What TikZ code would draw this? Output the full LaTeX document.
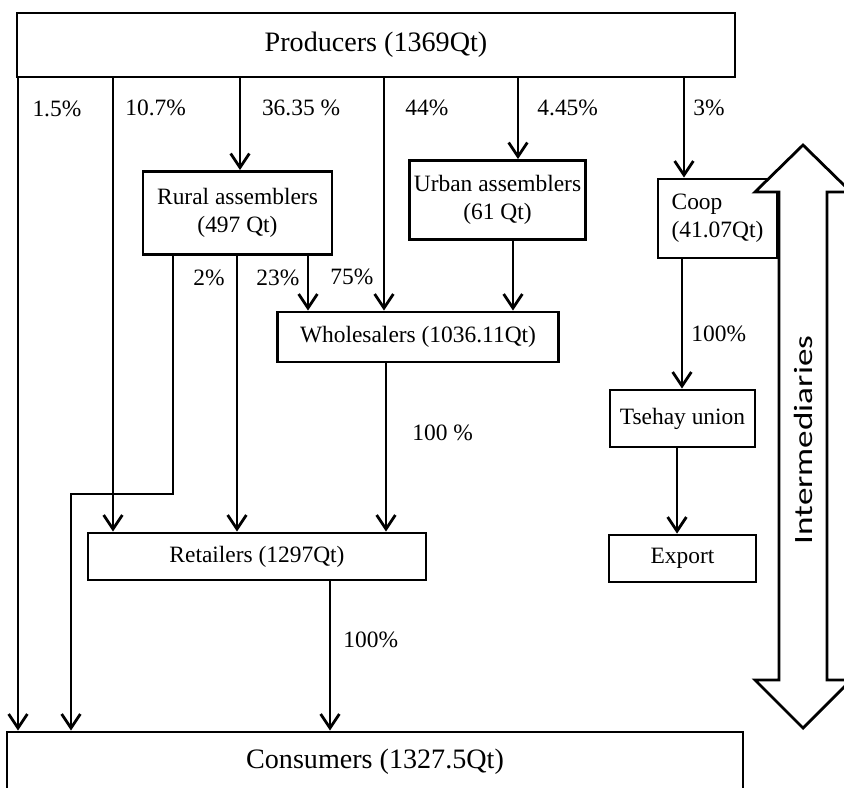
\documentclass[tikz,border=0pt]{standalone}
\usepackage{fontspec}
\setmainfont{Liberation Serif}
\newfontfamily\labelsans{Carlito}
\usetikzlibrary{arrows.meta}
\newcommand{\pxl}{0.015cm}

\begin{document}
\begin{tikzpicture}[x=0.015cm,y=-0.015cm,line width=1.2pt,
    >={Straight Barb[length=6pt,width=8pt]},
    stage/.style={draw,rectangle,align=center,inner sep=2pt},
    share/.style={inner sep=0pt,font=\normalsize}]
  \clip (0,0) rectangle (844,787);

  % actors
  \node[stage,minimum width=718*\pxl,minimum height=64*\pxl,font=\large] (prod) at (376,45) {Producers (1369Qt)};
  \node[stage,minimum width=189*\pxl,minimum height=83*\pxl] (rural) at (237.5,213) {Rural assemblers\\(497 Qt)};
  \node[stage,minimum width=165*\pxl,minimum height=79*\pxl] (urban) at (497.5,200) {Urban assemblers\\(61 Qt)};
  \node[stage,align=left,minimum width=119*\pxl,minimum height=79*\pxl] (coop) at (717.5,218.5) {Coop\\(41.07Qt)};
  \node[stage,minimum width=281*\pxl,minimum height=50*\pxl] (whole) at (418,337) {Wholesalers (1036.11Qt)};
  \node[stage,minimum width=145*\pxl,minimum height=57*\pxl] (tsehay) at (682.5,418.5) {Tsehay union};
  \node[stage,minimum width=147*\pxl,minimum height=47*\pxl] (export) at (682.5,558.5) {Export};
  \node[stage,minimum width=338*\pxl,minimum height=47*\pxl] (ret) at (257,556.5) {Retailers (1297Qt)};
  \node[stage,minimum width=736*\pxl,minimum height=60*\pxl,font=\large] (cons) at (375,762) {Consumers (1327.5Qt)};

  % flows
  \path[->]
    (18,0 |- prod.south) edge node[share,right=5.6pt,pos=.046] {1.5\%} (18,0 |- cons.north)
    (113,0 |- prod.south) edge node[share,right=4.7pt,pos=.066] {10.7\%} (113,0 |- ret.north)
    (240,0 |- prod.south) edge node[share,right=8.8pt,pos=.32] {36.35 \%} (240,0 |- rural.north)
    (384,0 |- prod.south) edge node[share,right=8.5pt,pos=.128] {44\%} (384,0 |- whole.north)
    (518,0 |- prod.south) edge node[share,right=7.7pt,pos=.36] {4.45\%} (518,0 |- urban.north)
    (684,0 |- prod.south) edge node[share,right=3.4pt,pos=.294] {3\%} (684,0 |- coop.north)
    (237,0 |- rural.south) edge node[share,right=7.7pt,pos=.079] {23\%} (237,0 |- ret.north)
    (308,0 |- rural.south) edge node[share,right=9pt,pos=.386] {75\%} (308,0 |- whole.north)
    (513,0 |- urban.south) edge (513,0 |- whole.north)
    (682,0 |- coop.south) edge node[share,right=3.4pt,pos=.576] {100\%} (682,0 |- tsehay.north)
    (386,0 |- whole.south) edge node[share,right=10.7pt,pos=.41] {100 \%} (386,0 |- ret.north)
    (677,0 |- tsehay.south) edge (677,0 |- export.north)
    (330,0 |- ret.south) edge node[share,right=5.1pt,pos=.395] {100\%} (330,0 |- cons.north);
  \draw[->] (173,0 |- rural.south) -- node[share,right=8.1pt,pos=.092] {2\%} (173,494) -| (71,0 |- cons.north);

  % intermediaries
  \draw[fill=white,line join=miter] (803,145) -- (851,192) -- (827,192) -- (827,680) -- (851,680)
    -- (803,728) -- (755,680) -- (779,680) -- (779,192) -- (755,192) -- cycle;
  \node[rotate=90,font=\labelsans\fontsize{15}{18}\selectfont] (inter) at (803,440) {\scalebox{1}[0.75]{Intermediaries}};
\end{tikzpicture}
\end{document}
